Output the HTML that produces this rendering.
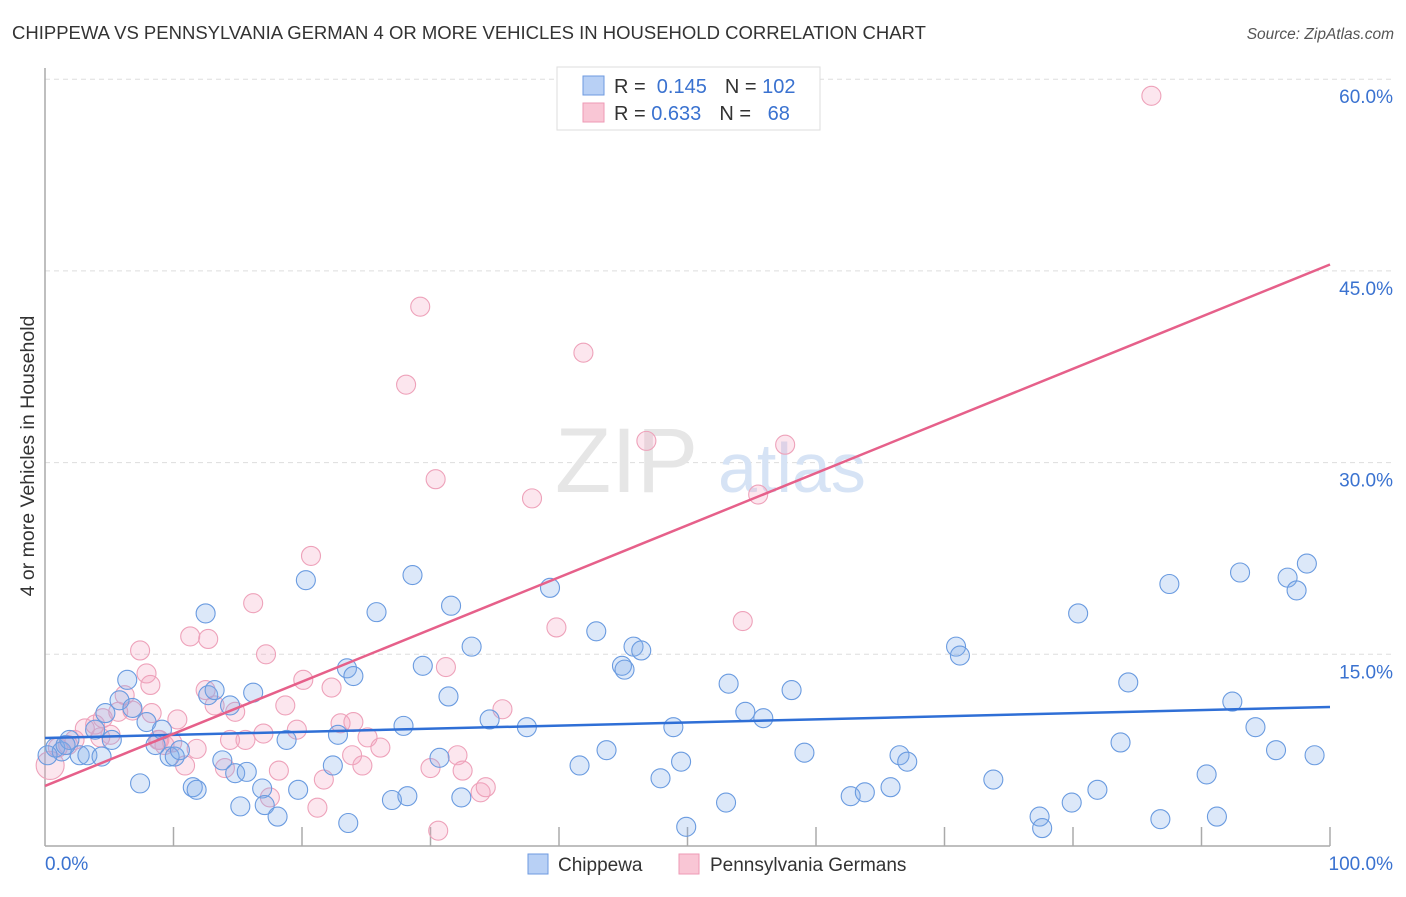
<!DOCTYPE html>
<html><head><meta charset="utf-8"><style>
body{margin:0;background:#fff;font-family:"Liberation Sans",sans-serif;}
svg text{font-family:"Liberation Sans",sans-serif;}
</style></head><body>
<svg id="chart" width="1406" height="892" viewBox="0 0 1406 892">
<text x="12" y="39" font-size="18.5" fill="#333">CHIPPEWA VS PENNSYLVANIA GERMAN 4 OR MORE VEHICLES IN HOUSEHOLD CORRELATION CHART</text>
<text x="1394" y="39" font-size="15.5" fill="#555" font-style="italic" text-anchor="end">Source: ZipAtlas.com</text>
<text x="0" y="0" font-size="19.5" fill="#333" text-anchor="middle" transform="translate(34,456) rotate(-90)">4 or more Vehicles in Household</text>
<g id="grid"></g>
<text x="555" y="492" font-size="92" fill="#e6e6e6" font-family="Liberation Serif">ZIP</text>
<text x="718" y="492" font-size="70" fill="#d6e3f5">atlas</text>
<g id="axes"></g>
<g id="pink"></g>
<g id="blue"></g>
<g id="lines"></g>
<g>
<rect x="557" y="67" width="263" height="63" fill="#fff" stroke="#ddd"/>
<rect x="583" y="76" width="21" height="19" fill="#b8d0f5" stroke="#6e9ae0"/>
<rect x="583" y="103" width="21" height="19" fill="#f9c6d5" stroke="#ee9ab5"/>
<text x="614" y="93" font-size="20" fill="#333">R = <tspan fill="#3a72d0">&#160;0.145</tspan><tspan dx="18">N = </tspan><tspan fill="#3a72d0">102</tspan></text>
<text x="614" y="120" font-size="20" fill="#333">R = <tspan fill="#3a72d0">0.633</tspan><tspan dx="18">N = </tspan><tspan fill="#3a72d0">&#160;&#160;68</tspan></text>
</g>
<g>
<rect x="528" y="854" width="20" height="20" fill="#b8d0f5" stroke="#6e9ae0"/>
<text x="558" y="871" font-size="19" fill="#333">Chippewa</text>
<rect x="679" y="854" width="20" height="20" fill="#f9c6d5" stroke="#ee9ab5"/>
<text x="710" y="871" font-size="19" fill="#333">Pennsylvania Germans</text>
</g>
</svg>
<script>
const yTicks=[15,30,45,60];
const yTickLabels=["15.0%","30.0%","45.0%","60.0%"];
const xTicks=[10,20,30,40,50,60,70,80,90,100];
const blueX=[0.8,1.3,1.9,2.7,3.3,3.9,4.4,4.7,5.2,5.8,6.4,6.8,7.4,7.9,8.6,9.1,9.7,10.1,10.5,11.5,11.8,12.5,12.7,13.2,13.8,14.4,14.8,15.2,15.7,16.2,16.9,17.1,18.1,18.8,19.7,20.3,22.4,22.8,23.5,23.6,24.0,25.8,27.0,27.9,28.2,28.6,29.4,30.7,31.4,31.6,32.4,33.2,34.6,37.5,39.3,41.6,42.9,43.7,44.9,45.1,45.8,46.4,47.9,48.9,49.5,49.9,53.0,53.2,54.5,55.9,58.1,59.1,62.7,63.8,65.8,66.5,67.1,70.9,71.2,73.8,77.4,77.6,79.9,80.4,81.9,83.7,84.3,86.8,87.5,90.4,91.2,92.4,93.0,94.2,95.8,96.7,97.4,98.2,98.8,0.2,1.6];
const blueY=[7.7,7.4,8.3,7.1,7.1,9.1,7.0,10.4,8.3,11.4,13.0,10.8,4.9,9.7,7.9,9.1,7.0,7.0,7.5,4.6,4.4,18.2,11.8,12.2,6.7,11.0,5.7,3.1,5.8,12.0,4.5,3.2,2.3,8.3,4.4,20.8,6.3,8.7,13.9,1.8,13.3,18.3,3.6,9.4,3.9,21.2,14.1,6.9,11.7,18.8,3.8,15.6,9.9,9.3,20.2,6.3,16.8,7.5,14.1,13.8,15.6,15.3,5.3,9.3,6.6,1.5,3.4,12.7,10.5,10.0,12.2,7.3,3.9,4.2,4.6,7.1,6.6,15.6,14.9,5.2,2.3,1.4,3.4,18.2,4.4,8.1,12.8,2.1,20.5,5.6,2.3,11.3,21.4,9.3,7.5,21.0,20.0,22.1,7.1,7.1,7.9];
const pinkX=[0.4,1.0,1.8,2.3,3.1,3.9,4.5,5.1,5.7,6.2,6.8,7.4,7.9,8.3,8.8,9.3,9.9,10.3,10.9,11.3,11.8,12.5,12.7,13.2,14.0,14.4,14.8,15.6,16.2,17.0,17.2,17.5,18.2,18.7,19.6,20.1,20.7,21.2,21.7,22.3,23.0,24.0,23.9,24.7,25.1,26.1,28.1,29.2,30.0,30.4,30.6,31.2,32.1,32.5,33.9,34.3,35.6,37.9,39.8,41.9,46.8,54.3,55.5,57.6,86.1,4.3,8.2,8.9];
const pinkY=[6.3,7.7,7.9,8.3,9.2,9.5,10.0,8.7,10.5,11.8,10.6,15.3,13.5,10.4,8.3,7.9,8.1,9.9,6.3,16.4,7.6,12.2,16.2,11.0,6.1,8.3,10.5,8.3,19.0,8.8,15.0,3.8,5.9,11.0,9.1,13.0,22.7,3.0,5.2,12.4,9.6,9.7,7.1,6.3,8.5,7.7,36.1,42.2,6.1,28.7,1.2,14.0,7.1,5.9,4.2,4.6,10.7,27.2,17.1,38.6,31.7,17.6,27.5,31.4,58.7,8.5,12.6,8.3];
const blueTrend=[8.45,10.88];
const pinkTrend=[4.7,45.5];
const NS="http://www.w3.org/2000/svg";
const xs=v=>45+v*12.85;
const ys=v=>846-v*12.78;
function mk(tag,parent,attrs){const e=document.createElementNS(NS,tag);for(const k in attrs)e.setAttribute(k,attrs[k]);parent.appendChild(e);return e;}
const grid=document.getElementById('grid');
yTicks.forEach((t,i)=>{
 const l=mk('line',grid,{x1:45,x2:1393,y1:ys(t),y2:ys(t),stroke:'#ddd','stroke-dasharray':'5,4'});
 
 
 const tx=mk('text',grid,{x:1393,y:ys(t)+24,'font-size':19,fill:'#3a72d0','text-anchor':'end'});
 tx.textContent=yTickLabels[i];
 
 
});
const axes=document.getElementById('axes');
const ya=mk('line',axes,{x1:45,x2:45,y1:68,y2:846,stroke:'#aaa','stroke-width':1.5});


const xa=mk('line',axes,{x1:45,x2:1330,y1:846,y2:846,stroke:'#aaa','stroke-width':1.5});


xTicks.forEach(t=>{
 const l=mk('line',axes,{x1:xs(t),x2:xs(t),y1:846,y2:827,stroke:'#aaa','stroke-width':1.5});
 
 
});
const x0=mk('text',axes,{x:45,y:870,'font-size':19,fill:'#3a72d0'});x0.textContent='0.0%';


const x1=mk('text',axes,{x:1393,y:870,'font-size':19,fill:'#3a72d0','text-anchor':'end'});x1.textContent='100.0%';


const pg=document.getElementById('pink');
pinkX.forEach((x,i)=>{
 const c=mk('circle',pg,{cx:xs(x),cy:ys(pinkY[i]),r:i===0?14:9.5,fill:'rgba(245,165,195,0.28)',stroke:'#eea2ba','stroke-width':1.1});
 
 
});
const bg=document.getElementById('blue');
blueX.forEach((x,i)=>{
 const c=mk('circle',bg,{cx:xs(x),cy:ys(blueY[i]),r:9.5,fill:'rgba(130,172,232,0.28)',stroke:'#6a9be0','stroke-width':1.1});
 
 
});
const lg=document.getElementById('lines');
const bl=mk('line',lg,{x1:xs(0),y1:ys(blueTrend[0]),x2:xs(100),y2:ys(blueTrend[1]),stroke:'#2f6fd6','stroke-width':2.5});


const pl=mk('line',lg,{x1:xs(0),y1:ys(pinkTrend[0]),x2:xs(100),y2:ys(pinkTrend[1]),stroke:'#e6608a','stroke-width':2.5});


</script>
</body></html>
